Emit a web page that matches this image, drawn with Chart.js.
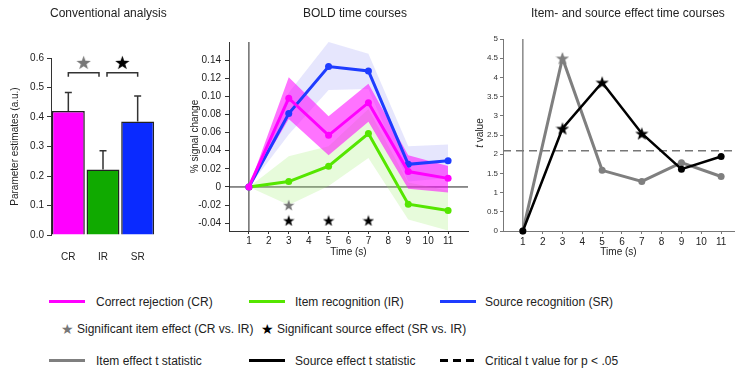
<!DOCTYPE html>
<html>
<head>
<meta charset="utf-8">
<script src="https://cdn.jsdelivr.net/npm/chart.js@4.4.1/dist/chart.umd.min.js"></script>
<style>
  body { margin: 0; background: #fff; font-family: "Liberation Sans", Arial, sans-serif; color: #222; }
  #wrap { position: relative; width: 738px; height: 369px; overflow: hidden; }
  canvas { position: absolute; top: 0; }
  .ttl { position: absolute; top: 5px; font-size: 12px; line-height: 16px; white-space: nowrap; }
  .lg { position: absolute; font-size: 12px; line-height: 14px; white-space: nowrap; }
  .sw { position: absolute; width: 36px; height: 3px; }
  .star { position: absolute; font-family: "DejaVu Sans", sans-serif; font-size: 14px; line-height: 14px; }
  #tlabel { position: absolute; left: 450px; top: 126px; width: 60px; height: 14px; line-height: 14px;
            font-size: 10px; text-align: center; transform: rotate(-90deg); white-space: nowrap; }
</style>
</head>
<body>
<div id="wrap">
  <canvas id="bars" width="170" height="265" style="left:0px"></canvas>
  <canvas id="bold" width="300" height="265" style="left:175px"></canvas>
  <canvas id="tstat" width="268" height="265" style="left:470px"></canvas>

  <div class="ttl" style="left:50px">Conventional analysis</div>
  <div class="ttl" style="left:303px">BOLD time courses</div>
  <div class="ttl" style="left:531px">Item- and source effect time courses</div>
  <div id="tlabel"><i>t</i> value</div>

  <!-- legend -->
  <div class="sw" style="left:49px;top:300px;background:#ff00ff"></div>
  <div class="lg" style="left:96px;top:295px">Correct rejection (CR)</div>
  <div class="sw" style="left:249px;top:300px;background:#55e600"></div>
  <div class="lg" style="left:295px;top:295px">Item recognition (IR)</div>
  <div class="sw" style="left:440px;top:300px;background:#1e3cff"></div>
  <div class="lg" style="left:485px;top:295px">Source recognition (SR)</div>

  <div class="star" style="left:61px;top:322px;color:#777">★</div>
  <div class="lg" style="left:77px;top:322px">Significant item effect (CR vs. IR)</div>
  <div class="star" style="left:261px;top:322px;color:#000">★</div>
  <div class="lg" style="left:277px;top:322px">Significant source effect (SR vs. IR)</div>

  <div class="sw" style="left:49px;top:359px;background:#7f7f7f"></div>
  <div class="lg" style="left:96px;top:354px">Item effect t statistic</div>
  <div class="sw" style="left:249px;top:359px;background:#000"></div>
  <div class="lg" style="left:295px;top:354px">Source effect t statistic</div>
  <div class="sw" style="left:440px;top:359px;background:repeating-linear-gradient(to right,#000 0 8px,transparent 8px 13px)"></div>
  <div class="lg" style="left:485px;top:354px">Critical t value for p &lt; .05</div>
</div>

<script>
// conventional analysis
const conditions = ['CR', 'IR', 'SR'];
const parameterEstimates = [0.42, 0.222, 0.385];
const estimateErrorTops = [0.483, 0.286, 0.471];
const comparisons = [[0, 1], [1, 2]];   // item effect, source effect
const bracketLevel = 0.55;
const starLevel = 0.585;
const estimateTicks = [0, 0.1, 0.2, 0.3, 0.4, 0.5, 0.6];

// BOLD time courses
const times = [1, 3, 5, 7, 9, 11];
const crMean  = [0, 0.098, 0.057, 0.093, 0.017, 0.0095];
const crLow   = [0, 0.075, 0.035, 0.072, -0.002, -0.006];
const crHigh  = [0, 0.121, 0.078, 0.114, 0.035, 0.023];
const irMean  = [0, 0.006, 0.023, 0.059, -0.019, -0.026];
const irLow   = [0, -0.02, 0.001, 0.032, -0.036, -0.048];
const irHigh  = [0, 0.034, 0.045, 0.086, 0.005, -0.004];
const srMean  = [0, 0.081, 0.133, 0.128, 0.025, 0.029];
const srLow   = [0, 0.058, 0.107, 0.108, 0.006, 0.01];
const srHigh  = [0, 0.104, 0.16, 0.147, 0.045, 0.047];
const itemSigTimes = [3];
const sourceSigTimes = [3, 5, 7];
const itemStarRow = -0.02;
const sourceStarRow = -0.037;
const boldTicks = [-0.04, -0.02, 0, 0.02, 0.04, 0.06, 0.08, 0.1, 0.12, 0.14];
const timeTicks = [1, 2, 3, 4, 5, 6, 7, 8, 9, 10, 11];

// t statistics
const itemT   = [0, 4.5, 1.58, 1.29, 1.78, 1.42];
const sourceT = [0, 2.67, 3.87, 2.54, 1.61, 1.94];
const tCritical = 2.09;
const tTicks = [0, 0.5, 1, 1.5, 2, 2.5, 3, 3.5, 4, 4.5, 5];

Chart.defaults.font.family = '"Liberation Sans", Arial, sans-serif';
Chart.defaults.font.size = 10;
Chart.defaults.color = '#222';
Chart.defaults.animation = false;
Chart.defaults.plugins.legend.display = false;
Chart.defaults.plugins.tooltip.enabled = false;

function starImage(color, size) {
  const c = document.createElement('canvas');
  c.width = size; c.height = size;
  const g = c.getContext('2d');
  g.fillStyle = color;
  g.beginPath();
  for (let i = 0; i < 10; i++) {
    const r = i % 2 ? size * 0.2 : size * 0.5;
    const a = -Math.PI / 2 + i * Math.PI / 5;
    g.lineTo(size / 2 + r * Math.cos(a), size * 0.55 + r * Math.sin(a));
  }
  g.closePath();
  g.fill();
  return c;
}
const bigGray = starImage('#777', 15), bigBlack = starImage('#000', 15);
const grayStar = starImage('#777', 12), blackStar = starImage('#000', 12);
const tGrayStar = starImage('#7f7f7f', 14), tBlackStar = starImage('#000', 14);

function pts(vals) { return times.map((t, i) => ({ x: t, y: vals[i] })); }
function setTicks(list) { return s => { s.ticks = list.map(v => ({ value: v })); }; }

// ---------- panel 1 ----------
const barExtras = {
  id: 'barExtras',
  afterDatasetsDraw(chart) {
    const { ctx, scales: { x, y } } = chart;
    ctx.save();
    ctx.strokeStyle = '#333';
    ctx.lineWidth = 1.5;
    estimateErrorTops.forEach((top, i) => {
      const px = x.getPixelForValue(i);
      ctx.beginPath();
      ctx.moveTo(px, y.getPixelForValue(parameterEstimates[i]));
      ctx.lineTo(px, y.getPixelForValue(top));
      ctx.moveTo(px - 3.5, y.getPixelForValue(top));
      ctx.lineTo(px + 3.5, y.getPixelForValue(top));
      ctx.stroke();
    });
    comparisons.forEach(([a, b], k) => {
      let x0 = x.getPixelForValue(a), x1 = x.getPixelForValue(b);
      if (k === 0) x1 -= 4; else x0 += 4;
      const yb = y.getPixelForValue(bracketLevel);
      ctx.beginPath();
      ctx.moveTo(x0, yb + 4); ctx.lineTo(x0, yb); ctx.lineTo(x1, yb); ctx.lineTo(x1, yb + 4);
      ctx.stroke();
      const img = k === 0 ? bigGray : bigBlack;
      ctx.drawImage(img, (x0 + x1) / 2 - img.width / 2, y.getPixelForValue(starLevel) - img.height / 2);
    });
    ctx.restore();
  }
};

new Chart(document.getElementById('bars'), {
  type: 'bar',
  data: {
    labels: conditions,
    datasets: [{
      data: parameterEstimates,
      backgroundColor: ['#ff00ff', '#10aa00', '#0a2aff'],
      borderColor: '#222',
      borderWidth: 1.5,
      barPercentage: 0.95,
      categoryPercentage: 1
    }]
  },
  options: {
    responsive: false,
    layout: { padding: { top: 58, left: 0, right: 15, bottom: 0 } },
    scales: {
      x: {
        grid: { display: false },
        border: { display: false },
        ticks: { padding: 8 },
        afterFit: s => { s.height = 30; }
      },
      y: {
        min: 0, max: 0.6,
        afterBuildTicks: setTicks(estimateTicks),
        ticks: { padding: 3, callback: v => v.toFixed(1) },
        grid: { drawOnChartArea: false, tickLength: 4, color: '#333' },
        border: { color: '#333' },
        title: { display: true, text: 'Parameter estimates (a.u.)', padding: { top: 9, bottom: 0 } },
        afterFit: s => { s.width = 51; }
      }
    }
  },
  plugins: [barExtras]
});

// ---------- panel 2 ----------
const boldAxes = {
  id: 'boldAxes',
  beforeDatasetsDraw(chart) {
    const { ctx, chartArea, scales: { x, y } } = chart;
    ctx.save();
    ctx.strokeStyle = '#222';
    ctx.lineWidth = 1;
    ctx.beginPath();
    ctx.moveTo(chartArea.left, y.getPixelForValue(0));
    ctx.lineTo(chartArea.right, y.getPixelForValue(0));
    ctx.moveTo(x.getPixelForValue(times[0]), chartArea.top);
    ctx.lineTo(x.getPixelForValue(times[0]), chartArea.bottom);
    ctx.stroke();
    ctx.restore();
  }
};

function band(lower, upper, color, order) {
  return [
    { data: pts(lower), borderWidth: 0, pointRadius: 0, fill: false, order: order },
    { data: pts(upper), borderWidth: 0, pointRadius: 0, fill: '-1', backgroundColor: color, order: order }
  ];
}
function meanLine(vals, color, order) {
  return { data: pts(vals), borderColor: color, backgroundColor: color, borderWidth: 3,
           pointRadius: 3.5, pointBorderWidth: 0, pointBackgroundColor: color, order: order, clip: false };
}

new Chart(document.getElementById('bold'), {
  type: 'line',
  data: {
    datasets: [
      ...band(srLow, srHigh, 'rgba(190,190,250,0.38)', 9),
      ...band(irLow, irHigh, 'rgba(160,240,110,0.25)', 8),
      ...band(crLow, crHigh, 'rgba(255,0,255,0.55)', 7),
      meanLine(irMean, '#55e600', 4),
      meanLine(srMean, '#1e3cff', 3),
      meanLine(crMean, '#ff00ff', 2),
      { data: itemSigTimes.map(t => ({ x: t, y: itemStarRow })), showLine: false,
        pointStyle: grayStar, pointRadius: 6, order: 0, clip: false },
      { data: sourceSigTimes.map(t => ({ x: t, y: sourceStarRow })), showLine: false,
        pointStyle: blackStar, pointRadius: 6, order: 0, clip: false }
    ]
  },
  options: {
    responsive: false,
    layout: { padding: { top: 42, left: 0, right: 6, bottom: 0 } },
    elements: { line: { tension: 0 } },
    scales: {
      x: {
        type: 'linear', min: 0, max: 12,
        afterBuildTicks: setTicks(timeTicks),
        ticks: { padding: 1 },
        grid: { drawOnChartArea: false, tickLength: 3, color: '#333' },
        border: { color: '#333' },
        title: { display: true, text: 'Time (s)', padding: { top: 0, bottom: 7 } },
        afterFit: s => { s.height = 34; }
      },
      y: {
        min: -0.0486, max: 0.16,
        afterBuildTicks: setTicks(boldTicks),
        ticks: { padding: 4, callback: v => v === 0 ? '0' : v.toFixed(2) },
        grid: { drawOnChartArea: false, tickLength: 4, color: '#333' },
        border: { color: '#333' },
        title: { display: true, text: '% signal change', padding: { top: 14, bottom: 0 } },
        afterFit: s => { s.width = 54; }
      }
    }
  },
  plugins: [boldAxes]
});

// ---------- panel 3 ----------
const tLines = {
  id: 'tLines',
  beforeDatasetsDraw(chart) {
    const { ctx, chartArea, scales: { x, y } } = chart;
    ctx.save();
    ctx.strokeStyle = '#888';
    ctx.lineWidth = 1.5;
    ctx.beginPath();
    ctx.moveTo(x.getPixelForValue(times[0]), y.getPixelForValue(0));
    ctx.lineTo(x.getPixelForValue(times[0]), y.getPixelForValue(tTicks[tTicks.length - 1]));
    ctx.stroke();
    ctx.strokeStyle = '#777';
    ctx.setLineDash([8, 5]);
    ctx.beginPath();
    ctx.moveTo(chartArea.left, y.getPixelForValue(tCritical));
    ctx.lineTo(chartArea.right, y.getPixelForValue(tCritical));
    ctx.stroke();
    ctx.restore();
  }
};

function tLine(vals, sig, color, star, width, order) {
  return {
    data: pts(vals), borderColor: color, backgroundColor: color, borderWidth: width,
    pointStyle: times.map(t => sig.includes(t) ? star : 'circle'),
    pointRadius: times.map(t => sig.includes(t) ? 7 : 3.5),
    pointBorderWidth: 0, pointBackgroundColor: color, order: order, clip: false
  };
}

new Chart(document.getElementById('tstat'), {
  type: 'line',
  data: {
    datasets: [
      tLine(itemT, itemSigTimes, '#7f7f7f', tGrayStar, 3, 2),
      tLine(sourceT, sourceSigTimes, '#000', tBlackStar, 2.5, 1)
    ]
  },
  options: {
    responsive: false,
    layout: { padding: { top: 39, left: 0, right: 0, bottom: 0 } },
    elements: { line: { tension: 0 } },
    scales: {
      x: {
        type: 'linear', min: 0, max: 11.65,
        afterBuildTicks: setTicks(timeTicks),
        ticks: { padding: 2 },
        grid: { drawOnChartArea: false, tickLength: 3, color: '#777' },
        border: { color: '#777' },
        title: { display: true, text: 'Time (s)', padding: { top: 0, bottom: 7 } },
        afterFit: s => { s.height = 34; }
      },
      y: {
        min: 0, max: 5,
        afterBuildTicks: setTicks(tTicks),
        ticks: { padding: 2, font: { size: 8 }, color: '#333', callback: v => String(v) },
        grid: { drawOnChartArea: false, tickLength: 3, color: '#777' },
        border: { color: '#777' },
        afterFit: s => { s.width = 33; }
      }
    }
  },
  plugins: [tLines]
});
</script>
</body>
</html>
